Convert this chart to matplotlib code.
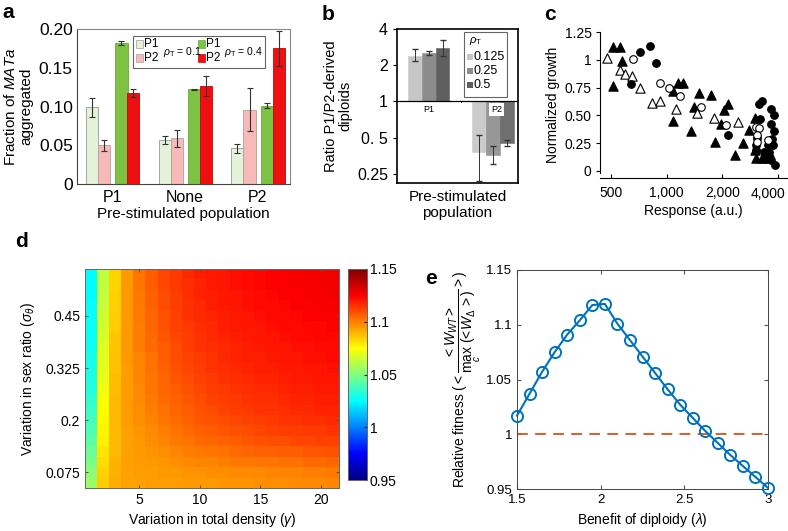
import numpy as np
import matplotlib
matplotlib.use("Agg")
import matplotlib.pyplot as plt
from matplotlib.patches import Rectangle
from matplotlib.ticker import NullLocator
from matplotlib.colors import LinearSegmentedColormap

plt.rcParams['font.family'] = ['Liberation Sans', 'DejaVu Sans']
plt.rcParams['mathtext.fontset'] = 'custom'
plt.rcParams['mathtext.rm'] = 'Liberation Sans'
plt.rcParams['mathtext.it'] = 'Liberation Sans:italic'

W, H = 788, 531

# ---- panel a data ----
groups_a = ["P1", "None", "P2"]
a_p1_low = [0.099, 0.057, 0.046]
a_p1_low_err = [0.012, 0.005, 0.006]
a_p2_low = [0.050, 0.059, 0.096]
a_p2_low_err = [0.007, 0.011, 0.028]
a_p1_high = [0.182, 0.122, 0.101]
a_p1_high_err = [0.003, 0.001, 0.003]
a_p2_high = [0.117, 0.126, 0.175]
a_p2_high_err = [0.005, 0.013, 0.023]

# ---- panel b data ----
rho_b = ["0.125", "0.25", "0.5"]
b_p1 = [2.4, 2.55, 2.8]
b_p1_lo = [2.15, 2.45, 2.4]
b_p1_hi = [2.75, 2.65, 3.25]
b_p2 = [0.38, 0.36, 0.45]
b_p2_lo = [0.22, 0.30, 0.43]
b_p2_hi = [0.53, 0.43, 0.48]

# ---- panel c data ----
c_xticks = [500, 1000, 2000, 4000]
c_xlabels = ["500", "1,000", "2,000", "4,000"]
c_tri_fill_x = [514, 564, 574, 514, 1090, 1150, 1230, 1080, 1490, 1750, 1410, 1350,
                2150, 2040, 1960, 1820, 2580, 2340, 2800, 3000, 3020, 3040, 3300, 3600]
c_tri_fill_y = [1.118, 1.118, 0.99, 0.76, 0.72, 0.79, 0.79, 0.45, 0.70, 0.68, 0.58, 0.36,
                0.60, 0.55, 0.42, 0.26, 0.25, 0.14, 0.37, 0.48, 0.19, 0.12, 0.12, 0.17]
c_tri_open_x = [474, 563, 600, 648, 717, 830, 917, 1130, 1470, 1800, 2430, 3460]
c_tri_open_y = [1.013, 0.91, 0.87, 0.85, 0.75, 0.61, 0.63, 0.56, 0.52, 0.48, 0.44, 0.12]
c_circ_fill_x = [643, 720, 813, 881, 2150, 3150, 3300, 3200, 3660, 3800, 3660, 3800, 3700,
                 3550, 3770, 3350, 3560, 3420, 3660, 3870, 3040, 3085, 3060]
c_circ_fill_y = [0.78, 1.073, 1.127, 0.974, 0.32, 0.60, 0.63, 0.47, 0.56, 0.50, 0.42, 0.36, 0.285,
                 0.23, 0.23, 0.17, 0.17, 0.11, 0.10, 0.05, 0.23, 0.30, 0.19]
c_circ_open_x = [663, 917, 1035, 1190, 1530, 2100, 3040, 3150, 3100, 3100, 3550]
c_circ_open_y = [1.007, 0.79, 0.75, 0.675, 0.58, 0.41, 0.40, 0.39, 0.32, 0.26, 0.28]

# ---- panel d data (rows: sigma 0.55 -> 0.05, cols: gamma 1..21) ----
d_sigma = [0.55, 0.525, 0.5, 0.475, 0.45, 0.425, 0.4, 0.375, 0.35, 0.325, 0.3,
           0.275, 0.25, 0.225, 0.2, 0.175, 0.15, 0.125, 0.1, 0.075, 0.05]
d_vals = [
    [1.025, 1.062, 1.083, 1.095, 1.102, 1.107, 1.111, 1.114, 1.117, 1.119, 1.120, 1.121, 1.122, 1.123, 1.124, 1.125, 1.126, 1.126, 1.127, 1.127, 1.128],
    [1.025, 1.062, 1.083, 1.095, 1.102, 1.107, 1.111, 1.114, 1.116, 1.118, 1.120, 1.121, 1.122, 1.123, 1.124, 1.125, 1.125, 1.126, 1.126, 1.127, 1.127],
    [1.025, 1.063, 1.084, 1.095, 1.101, 1.106, 1.110, 1.113, 1.116, 1.118, 1.119, 1.120, 1.121, 1.122, 1.123, 1.124, 1.125, 1.125, 1.126, 1.126, 1.127],
    [1.026, 1.064, 1.084, 1.095, 1.101, 1.106, 1.110, 1.113, 1.115, 1.117, 1.119, 1.120, 1.121, 1.122, 1.123, 1.123, 1.124, 1.125, 1.125, 1.126, 1.126],
    [1.026, 1.065, 1.085, 1.095, 1.101, 1.105, 1.109, 1.112, 1.115, 1.117, 1.118, 1.119, 1.120, 1.121, 1.122, 1.123, 1.123, 1.124, 1.125, 1.125, 1.125],
    [1.027, 1.066, 1.085, 1.095, 1.100, 1.105, 1.109, 1.112, 1.114, 1.116, 1.117, 1.119, 1.120, 1.121, 1.121, 1.122, 1.123, 1.123, 1.124, 1.124, 1.125],
    [1.027, 1.067, 1.086, 1.095, 1.100, 1.104, 1.108, 1.111, 1.113, 1.115, 1.117, 1.118, 1.119, 1.120, 1.121, 1.121, 1.122, 1.123, 1.123, 1.124, 1.124],
    [1.028, 1.068, 1.086, 1.095, 1.100, 1.104, 1.107, 1.110, 1.113, 1.115, 1.116, 1.117, 1.118, 1.119, 1.120, 1.121, 1.121, 1.122, 1.122, 1.123, 1.123],
    [1.029, 1.069, 1.087, 1.095, 1.099, 1.103, 1.107, 1.110, 1.112, 1.114, 1.115, 1.117, 1.118, 1.119, 1.119, 1.120, 1.121, 1.121, 1.122, 1.122, 1.123],
    [1.030, 1.070, 1.087, 1.094, 1.099, 1.103, 1.106, 1.109, 1.111, 1.113, 1.115, 1.116, 1.117, 1.118, 1.119, 1.119, 1.120, 1.120, 1.121, 1.121, 1.122],
    [1.031, 1.071, 1.088, 1.094, 1.099, 1.102, 1.105, 1.108, 1.110, 1.112, 1.114, 1.115, 1.116, 1.117, 1.118, 1.118, 1.119, 1.120, 1.120, 1.121, 1.121],
    [1.032, 1.072, 1.088, 1.094, 1.098, 1.102, 1.105, 1.107, 1.109, 1.111, 1.113, 1.114, 1.115, 1.116, 1.117, 1.117, 1.118, 1.119, 1.119, 1.120, 1.120],
    [1.034, 1.074, 1.089, 1.094, 1.098, 1.101, 1.104, 1.106, 1.108, 1.110, 1.112, 1.113, 1.114, 1.115, 1.116, 1.116, 1.117, 1.118, 1.118, 1.119, 1.119],
    [1.036, 1.075, 1.089, 1.094, 1.097, 1.100, 1.103, 1.105, 1.107, 1.109, 1.110, 1.112, 1.113, 1.114, 1.115, 1.115, 1.116, 1.117, 1.117, 1.118, 1.118],
    [1.038, 1.076, 1.089, 1.094, 1.097, 1.099, 1.102, 1.104, 1.106, 1.108, 1.109, 1.110, 1.111, 1.112, 1.113, 1.114, 1.115, 1.115, 1.116, 1.116, 1.117],
    [1.040, 1.077, 1.089, 1.093, 1.096, 1.098, 1.100, 1.102, 1.104, 1.106, 1.107, 1.108, 1.109, 1.110, 1.111, 1.112, 1.113, 1.113, 1.114, 1.114, 1.115],
    [1.043, 1.078, 1.089, 1.093, 1.095, 1.097, 1.099, 1.101, 1.102, 1.104, 1.105, 1.106, 1.107, 1.108, 1.109, 1.110, 1.110, 1.111, 1.111, 1.112, 1.112],
    [1.046, 1.080, 1.089, 1.093, 1.095, 1.096, 1.097, 1.099, 1.100, 1.101, 1.102, 1.103, 1.104, 1.105, 1.106, 1.106, 1.107, 1.107, 1.108, 1.108, 1.109],
    [1.049, 1.082, 1.090, 1.093, 1.094, 1.095, 1.096, 1.097, 1.098, 1.099, 1.099, 1.100, 1.101, 1.101, 1.102, 1.102, 1.103, 1.103, 1.104, 1.104, 1.105],
    [1.052, 1.084, 1.090, 1.093, 1.094, 1.094, 1.095, 1.095, 1.096, 1.096, 1.097, 1.097, 1.098, 1.098, 1.098, 1.099, 1.099, 1.099, 1.100, 1.100, 1.101],
    [1.055, 1.085, 1.091, 1.093, 1.093, 1.094, 1.094, 1.094, 1.095, 1.095, 1.095, 1.096, 1.096, 1.096, 1.097, 1.097, 1.097, 1.098, 1.098, 1.098, 1.099],
]

# ---- panel e data ----
e_lambda = [1.5, 1.575, 1.65, 1.725, 1.8, 1.875, 1.95, 2.025, 2.1, 2.175, 2.25,
            2.325, 2.4, 2.475, 2.55, 2.625, 2.7, 2.775, 2.85, 2.925, 3.0]
e_fit = [1.017, 1.037, 1.057, 1.075, 1.091, 1.104, 1.118, 1.119, 1.101, 1.086, 1.071,
         1.056, 1.041, 1.027, 1.015, 1.003, 0.992, 0.981, 0.971, 0.961, 0.951]

# MATLAB-style jet
matlab_jet = LinearSegmentedColormap.from_list(
    "mjet", [(0.0, (0, 0, 0.5)), (0.125, (0, 0, 1)), (0.375, (0, 1, 1)),
             (0.625, (1, 1, 0)), (0.875, (1, 0, 0)), (1.0, (0.5, 0, 0))], N=256)


def box(l, t, r, b):
    return [l / W, 1 - b / H, (r - l) / W, (b - t) / H]


fig = plt.figure(figsize=(W / 100, H / 100), dpi=100)

# ================= a =================
ax = fig.add_axes(box(77, 29, 290, 184))
xa = np.arange(len(groups_a))
bw = 0.165
ek = dict(ecolor='#333333', elinewidth=0.8, capsize=2, capthick=0.8)
ax.bar(xa - 0.28, a_p1_low, bw, yerr=a_p1_low_err, color='#e4f2d8', edgecolor='#9a9a9a', lw=0.6, error_kw=ek)
ax.bar(xa - 0.115, a_p2_low, bw, yerr=a_p2_low_err, color='#f8b9b9', edgecolor='#b0a0a0', lw=0.6, error_kw=ek)
ax.bar(xa + 0.13, a_p1_high, bw, yerr=a_p1_high_err, color='#7ec243', edgecolor='#6aa83a', lw=0.6, error_kw=ek)
ax.bar(xa + 0.285, a_p2_high, bw, yerr=a_p2_high_err, color='#ee1010', edgecolor='#cc0000', lw=0.6, error_kw=ek)
ax.set_xlim(-0.48, 2.44)
ax.set_ylim(0, 0.2)
ax.set_xticks(xa)
ax.set_xticklabels(groups_a, fontsize=11.5)
ax.set_yticks([0, 0.05, 0.1, 0.15, 0.2])
ax.set_yticklabels(["0", "0.05", "0.10", "0.15", "0.20"], fontsize=12.5)
ax.tick_params(axis='x', length=0, pad=4)
ax.tick_params(axis='y', length=0, pad=3)
for s in ax.spines.values():
    s.set_color('#888888')
ax.spines['left'].set_color('#444444')
ax.spines['bottom'].set_color('#444444')
ax.set_ylabel("Fraction of $\\it{MATa}$\naggregated", fontsize=11, linespacing=1.1, labelpad=4)
ax.set_xlabel("Pre-stimulated population", fontsize=11, labelpad=2)

# legend of a
fig.patches.append(Rectangle((133 / W, 1 - 68 / H), 132 / W, 32 / H, transform=fig.transFigure,
                             facecolor='white', edgecolor='#666666', lw=0.8, zorder=5))
for (px, py, fc, ec, lab) in [(136, 44, '#e4f2d8', '#9a9a9a', 'P1'), (136, 58, '#f8b9b9', '#b0a0a0', 'P2'),
                              (198, 44, '#7ec243', '#6aa83a', 'P1'), (198, 58, '#ee1010', '#cc0000', 'P2')]:
    fig.patches.append(Rectangle((px / W, 1 - (py + 3.5) / H), 7 / W, 7 / H, transform=fig.transFigure,
                                 facecolor=fc, edgecolor=ec, lw=0.5, zorder=6))
    fig.text((px + 8) / W, 1 - py / H, lab, fontsize=8.5, va='center', zorder=7)
fig.text(163 / W, 1 - 52 / H, r"$\rho_{\rm T}$ = 0.1", fontsize=7.5, va='center', zorder=7)
fig.text(224 / W, 1 - 52 / H, r"$\rho_{\rm T}$ = 0.4", fontsize=7.5, va='center', zorder=7)

# ================= b =================
ax = fig.add_axes(box(397, 29, 518, 183))
grays = ['#c6c6c6', '#8c8c8c', '#5f5f5f']
offs = [-0.217, 0.0, 0.217]
for i in range(3):
    ax.bar(offs[i], b_p1[i] - 1, 0.217, bottom=1, color=grays[i], edgecolor=grays[i], lw=0.4)
    ax.errorbar(offs[i], b_p1[i], yerr=[[b_p1[i] - b_p1_lo[i]], [b_p1_hi[i] - b_p1[i]]],
                fmt='none', ecolor='#333333', elinewidth=0.7, capsize=2)
    ax.bar(1 + offs[i], b_p2[i] - 1, 0.217, bottom=1, color=grays[i], edgecolor=grays[i], lw=0.4, alpha=0.9)
    ax.errorbar(1 + offs[i], b_p2[i], yerr=[[b_p2[i] - b_p2_lo[i]], [b_p2_hi[i] - b_p2[i]]],
                fmt='none', ecolor='#333333', elinewidth=0.7, capsize=2)
ax.set_yscale('log', base=2)
ax.set_ylim(0.21, 4)
ax.set_xlim(-0.49, 1.39)
ax.axhline(1, color='black', lw=0.9)
ax.plot([0.5, 0.5], [0.985, 1.0], color='black', lw=0.6)
ax.set_yticks([0.25, 0.5, 1, 2, 4])
ax.set_yticklabels(["0.25", "0. 5", "1", "2", "4"], fontsize=11.5)
ax.yaxis.set_minor_locator(NullLocator())
ax.set_xticks([])
ax.tick_params(axis='y', length=3, direction='out')
for s in ax.spines.values():
    s.set_linewidth(1.2)
ax.text(0, 0.86, "P1", fontsize=6.5, ha='center', va='center')
ax.text(1.06, 0.86, "P2", fontsize=6.5, ha='center', va='center',
        bbox=dict(facecolor='white', edgecolor='none', pad=1.5))
ax.set_ylabel("Ratio P1/P2-derived\ndiploids", fontsize=10.5, linespacing=1.1, labelpad=3)
ax.set_xlabel("Pre-stimulated\npopulation", fontsize=11, linespacing=1.15, labelpad=5)

# legend of b
fig.patches.append(Rectangle((464 / W, 1 - 97 / H), 43 / W, 65 / H, transform=fig.transFigure,
                             facecolor='white', edgecolor='#666666', lw=0.8, zorder=5))
fig.text(469 / W, 1 - 41 / H, r"$\rho_{\rm T}$", fontsize=8, va='center', zorder=7)
for i, py in enumerate([57, 71, 85]):
    fig.patches.append(Rectangle((467 / W, 1 - (py + 3) / H), 6 / W, 6 / H, transform=fig.transFigure,
                                 facecolor=grays[i], edgecolor='none', zorder=6))
    fig.text(473 / W, 1 - py / H, rho_b[i], fontsize=9, va='center', zorder=7)

# ================= c =================
ax = fig.add_axes(box(600, 32, 787, 178))
ax.scatter(c_tri_fill_x, c_tri_fill_y, marker='^', s=45, c='black', lw=0.8, zorder=3)
ax.scatter(c_tri_open_x, c_tri_open_y, marker='^', s=45, facecolors='white', edgecolors='black', lw=0.8, zorder=3)
ax.scatter(c_circ_fill_x, c_circ_fill_y, marker='o', s=30, c='black', lw=0.8, zorder=3)
ax.scatter(c_circ_open_x, c_circ_open_y, marker='o', s=30, facecolors='white', edgecolors='black', lw=0.8, zorder=4)
ax.set_xscale('log')
ax.set_xlim(437, 4480)
ax.set_ylim(-0.063, 1.25)
ax.set_xticks(c_xticks)
ax.set_xticklabels(c_xlabels[:-1] + [""], fontsize=10)
# last label sits at the right edge of the figure, nudge it inside
ax.annotate(c_xlabels[-1], xy=(c_xticks[-1], 0), xycoords=('data', 'axes fraction'),
            xytext=(-10, -9), textcoords='offset pixels', ha='center', va='top', fontsize=10)
ax.xaxis.set_minor_locator(NullLocator())
ax.set_yticks([0, 0.25, 0.5, 0.75, 1, 1.25])
ax.set_yticklabels(["0", "0.25", "0.50", "0.75", "1", "1.25"], fontsize=10)
ax.spines['top'].set_visible(False)
ax.spines['right'].set_visible(False)
ax.spines['left'].set_bounds(-0.02, 1.25)
ax.tick_params(axis='x', direction='in', length=3, pad=6)
ax.tick_params(axis='y', direction='out', length=3, pad=3)
ax.set_ylabel("Normalized growth", fontsize=10, labelpad=3)
ax.set_xlabel("Response (a.u.)", fontsize=10, labelpad=3)

# ================= d =================
ax = fig.add_axes(box(85, 269, 339, 488))
gx = np.arange(0.5, 22.0, 1.0)
sig = np.array(d_sigma)[::-1]
gy = np.concatenate([sig - 0.0125, [sig[-1] + 0.0125]])
im = ax.pcolormesh(gx, gy, np.array(d_vals)[::-1], cmap=matlab_jet, vmin=0.95, vmax=1.15)
ax.set_xticks([5, 10, 15, 20])
ax.set_yticks([0.075, 0.2, 0.325, 0.45])
ax.set_yticklabels(["0.075", "0.2", "0.325", "0.45"])
ax.tick_params(direction='in', length=2.5, labelsize=10, top=True, right=True, color='#555555')
for s in ax.spines.values():
    s.set_color('#666666')
    s.set_linewidth(0.7)
ax.set_xlabel(r"Variation in total density ($\gamma$)", fontsize=10, labelpad=3)
ax.set_ylabel(r"Variation in sex ratio ($\sigma_\theta$)", fontsize=10, labelpad=6)
cax = fig.add_axes(box(348, 269, 367, 480))
cb = fig.colorbar(im, cax=cax, ticks=[0.95, 1, 1.05, 1.1, 1.15])
cb.ax.set_yticklabels(["0.95", "1", "1.05", "1.1", "1.15"])
cb.ax.tick_params(direction='in', length=2.5, labelsize=10, pad=2)
cb.outline.set_edgecolor('#666666')
cb.outline.set_linewidth(0.7)

# ================= e =================
ax = fig.add_axes(box(517, 270, 768, 489))
ax.plot(e_lambda, e_fit, color='#0072BD', lw=1.5, marker='o', ms=8, mfc='none', mew=1.4, clip_on=False, zorder=3)
ax.axhline(1, color='#D95319', lw=1.3, ls=(0, (6, 4)))
ax.set_xlim(1.5, 3)
ax.set_ylim(0.95, 1.15)
ax.set_xticks([1.5, 2, 2.5, 3])
ax.set_xticklabels(["1.5", "2", "2.5", "3"])
ax.set_yticks([0.95, 1, 1.05, 1.1, 1.15])
ax.set_yticklabels(["0.95", "1", "1.05", "1.1", "1.15"])
ax.tick_params(direction='in', length=3, labelsize=9.5, top=True, right=True, color='#555555')
for s in ax.spines.values():
    s.set_color('#444444')
    s.set_linewidth(0.7)
ax.set_xlabel(r"Benefit of diploidy ($\lambda$)", fontsize=10, labelpad=4)
ax.set_ylabel(r"Relative fitness ($<\dfrac{<W_{WT}>}{\max_{c}\ (<W_{\Delta}>)}>$)", fontsize=10, labelpad=2)

# panel letters
for lab, px, py in [("a", 2, 13), ("b", 322, 14), ("c", 544, 14), ("d", 15, 241), ("e", 425, 278)]:
    fig.text(px / W, 1 - py / H, lab, fontsize=15, fontweight='bold', va='center', ha='left')

fig.savefig("out.png", dpi=100)
